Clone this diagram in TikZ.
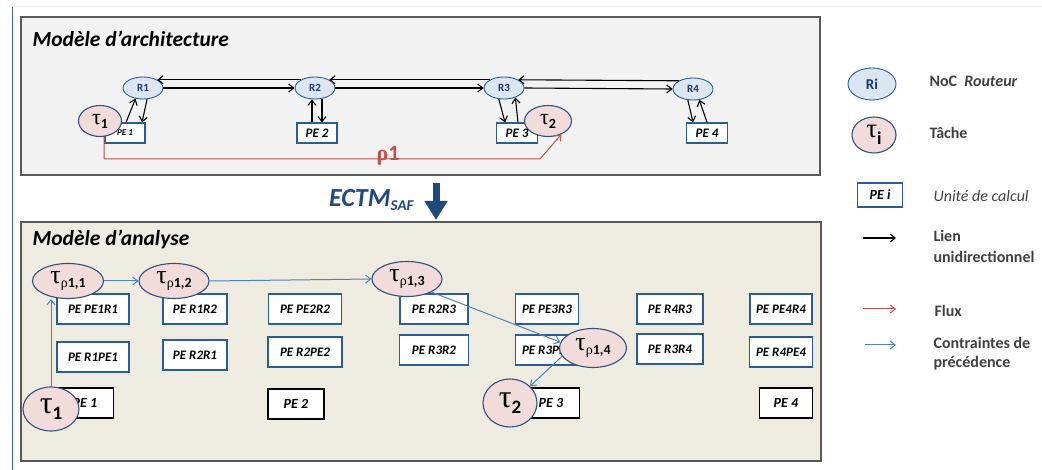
\documentclass[tikz,border=0pt]{standalone}
\usepackage{fontspec}
\setmainfont{Carlito}
\newfontfamily\grk{Liberation Serif}
\usetikzlibrary{arrows.meta,shapes.geometric,positioning}

\definecolor{archgray}{HTML}{F2F2F2}
\definecolor{anabeige}{HTML}{EEECE1}
\definecolor{routerfill}{HTML}{DCE6F2}
\definecolor{taskfill}{HTML}{F2DCDB}
\definecolor{navy}{HTML}{1F497D}
\definecolor{routertext}{HTML}{1F3864}
\definecolor{peblue}{HTML}{2C5D91}
\definecolor{taskline}{HTML}{34507A}
\definecolor{precblue}{HTML}{4F81BD}
\definecolor{fluxred}{HTML}{C0504D}
\definecolor{legendgray}{HTML}{404040}
\definecolor{framegray}{HTML}{595959}

\newcommand{\fsz}[1]{\fontsize{#1}{#1}\selectfont}
\newcommand{\tsub}[3]{\raisebox{-#1pt}{\fsz{#2}#3}}
\newcommand{\tautxt}[4]{{\grk\fsz{#1}τ}\tsub{#2}{#3}{#4}}

\begin{document}
\begin{tikzpicture}[x=1pt,y=-1pt,>={Straight Barb[length=5pt,width=8pt]},
  router/.style={ellipse,draw=peblue,fill=routerfill,inner sep=0pt,line width=0.9pt,
    minimum width=40pt,minimum height=22pt,text=routertext,font=\fsz{11}\bfseries},
  task/.style={ellipse,draw=taskline,fill=taskfill,inner sep=0pt,line width=1.1pt},
  pe/.style={draw=peblue,line width=1.2pt,fill=white,inner sep=0pt,
    minimum height=30pt,font=\fsz{13}\bfseries\itshape},
  pecore/.style={pe,draw=black,font=\fsz{14}\bfseries\itshape},
  link/.style={->,line width=1.1pt},
  flux/.style={->,fluxred,line width=1pt},
  prec/.style={->,precblue,line width=1pt},
  panel/.style={draw=framegray,line width=1.2pt},
  legtext/.style={anchor=base west,text=legendgray,font=\fsz{16}\bfseries}]
  \useasboundingbox (0,0) rectangle (1042,470);
  \draw[gray!15,line width=1pt] (12,7) -- (1042,7);
  \draw[precblue!80!black,line width=0.8pt] (12,7) -- (12,470);

  % architecture
  \draw[panel,fill=archgray] (21,17) rectangle (820,175);
  \node[anchor=base west,font=\fsz{21.5}\bfseries\itshape] (archtitle) at (29,47) {Modèle d’architecture};
  \node[router] (R1) at (143,88) {R1};
  \node[router] (R2) at (315,88) {R2};
  \node[router] (R3) at (504,88) {R3};
  \node[router] (R4) at (693,89) {R4};
  \node[pe,minimum width=40pt,minimum height=20pt,font=\fsz{9}\bfseries\itshape] (PE1) at (125,133) {PE 1};
  \node[pe,minimum width=40pt,minimum height=20pt] (PE2) at (317,133) {PE 2};
  \node[pe,minimum width=41pt,minimum height=20pt] (PE3) at (517,133) {PE 3};
  \node[pe,minimum width=41pt,minimum height=20pt] (PE4) at (707,133) {PE 4};
  \node[task,minimum width=43pt,minimum height=31pt] (tauA) at (100,121) {\tautxt{22}{4}{14}{\bfseries 1}};
  \node[task,minimum width=47pt,minimum height=31pt] (tauB) at (548,121) {\tautxt{22}{4}{14}{\bfseries 2}};
  \draw[link] (R1.east) -- (R2.west);
  \draw[link] (R2.150) -- (R1.30);
  \draw[link] (R2.east) -- (R3.west);
  \draw[link] (R3.150) -- (R2.30);
  \draw[link] (R3.east) -- (R4.west);
  \draw[link] (R4.150) -- (R3.30);
  \draw[link] ([xshift=1pt]PE1.north) -- (R1.235);
  \draw[link] (R1.290) -- ([xshift=17pt]PE1.north);
  \draw[link] ([xshift=-5pt]PE2.north) -- ([xshift=-5pt]PE2.north |- R2.south);
  \draw[link] ([xshift=5pt]PE2.north |- R2.south) -- ([xshift=5pt]PE2.north);
  \draw[link] (R3.245) -- ([xshift=-12pt]PE3.north);
  \draw[link] ([xshift=1pt]PE3.north) -- (R3.320);
  \draw[link] (R4.245) -- ([xshift=-14pt]PE4.north);
  \draw[link] (PE4.north) -- (R4.300);
  \coordinate (fluxbend) at (540,159);
  \draw[flux] (tauA.285) |- (fluxbend) -- (tauB.315);
  \node[anchor=base,text=fluxred,font=\fsz{22}\bfseries] (rho) at (388,161) {{\grk ρ}1};

  % transformation
  \node[anchor=base east,text=navy,font=\fsz{26}\bfseries\itshape] (ectm) at (417,207) {ECTM\tsub{4}{15}{SAF}};
  \coordinate (ectmtop) at (436,183);
  \coordinate (ectmbot) at (436,220);
  \draw[navy,line width=7pt,-{Triangle[length=19pt,width=22pt]}] (ectmtop) -- (ectmbot);

  % analyse
  \draw[panel,fill=anabeige] (21,222) rectangle (821,461);
  \node[anchor=base west,font=\fsz{21.5}\bfseries\itshape] (anatitle) at (29,246) {Modèle d’analyse};
  \node[pe,minimum width=72pt] (pPE1R1) at (93,309) {PE PE1R1};
  \node[pe,minimum width=64pt] (pR1R2) at (195,309) {PE R1R2};
  \node[pe,minimum width=73pt] (pPE2R2) at (305,309) {PE PE2R2};
  \node[pe,minimum width=68pt] (pR2R3) at (434,309) {PE R2R3};
  \node[pe,minimum width=63pt] (pPE3R3) at (547,309) {PE PE3R3};
  \node[pe,minimum width=66pt] (pR4R3) at (670,309) {PE R4R3};
  \node[pe,minimum width=62pt] (pPE4R4) at (781,309) {PE PE4R4};
  \node[pe,minimum width=72pt] (pR1PE1) at (93,357) {PE R1PE1};
  \node[pe,minimum width=64pt] (pR2R1) at (195,355) {PE R2R1};
  \node[pe,minimum width=74pt] (pR2PE2) at (305,352) {PE R2PE2};
  \node[pe,minimum width=69pt] (pR3R2) at (434,350) {PE R3R2};
  \node[pe,minimum width=63pt] (pR3PE3) at (547,350) {PE R3PE3};
  \node[pe,minimum width=66pt] (pR3R4) at (670,349) {PE R3R4};
  \node[pe,minimum width=63pt] (pR4PE4) at (781,352) {PE R4PE4};
  \node[pecore,minimum width=57pt] (pe1) at (85,403) {PE 1};
  \node[pecore,minimum width=56pt] (pe2) at (296,404) {PE 2};
  \node[pecore,minimum width=57pt] (pe3) at (551,403) {PE 3};
  \node[pecore,minimum width=53pt] (pe4) at (786,403) {PE 4};
  \node[task,minimum width=71pt,minimum height=35pt] (tr11) at (68,281) {\tautxt{26}{4}{14}{{\grk ρ}\textbf{1,1}}};
  \node[task,minimum width=70pt,minimum height=35pt] (tr12) at (174,281) {\tautxt{26}{4}{14}{{\grk ρ}\textbf{1,2}}};
  \node[task,minimum width=70pt,minimum height=35pt] (tr13) at (407,279) {\tautxt{26}{4}{14}{{\grk ρ}\textbf{1,3}}};
  \node[task,minimum width=67pt,minimum height=39pt] (tr14) at (593,348) {\tautxt{26}{4}{14}{{\grk ρ}\textbf{1,4}}};
  \node[task,minimum width=56pt,minimum height=44pt] (tauC) at (51,409) {\tautxt{32}{6}{19}{\bfseries 1}};
  \node[task,minimum width=54pt,minimum height=48pt] (tauD) at (510,403) {\tautxt{32}{6}{19}{\bfseries 2}};
  \draw[prec] (tauC.north) -- (tauC.north |- tr11.south);
  \draw[prec] (tr11.east) -- (tr12.west);
  \draw[prec] (tr12.east) -- (tr13.west);
  \draw[prec] (tr13.-28) -- (tr14.170);
  \draw[prec] (tr14.195) -- (tauD.40);

  % legende
  \node[router,minimum width=48pt,minimum height=32pt,font=\fsz{15}\bfseries] (legRouter) at (872,84) {Ri};
  \node[legtext] (legRouterTxt) at (926,87) {NoC\ \ \textit{Routeur}};
  \node[task,minimum width=44pt,minimum height=36pt] (legTask) at (874,135) {\tautxt{27}{7}{18}{\bfseries i}};
  \node[legtext] (legTaskTxt) at (926,139) {Tâche};
  \node[pe,minimum width=45pt,minimum height=24pt,font=\fsz{14}\bfseries\itshape] (legPE) at (880,195) {PE i};
  \node[legtext,font=\fsz{16}\itshape] (legPETxt) at (930,202) {Unité de calcul};
  \coordinate (legLinkA) at (863,238);
  \coordinate (legLinkB) at (896,238);
  \draw[link] (legLinkA) -- (legLinkB);
  \node[legtext] (legLinkTxt) at (930,242) {Lien};
  \node[legtext] (legLinkTxtb) at (930,263) {unidirectionnel};
  \coordinate (legFluxA) at (863,309);
  \coordinate (legFluxB) at (896,309);
  \draw[flux] (legFluxA) -- (legFluxB);
  \node[legtext] (legFluxTxt) at (931,317) {Flux};
  \coordinate (legPrecA) at (865,345);
  \coordinate (legPrecB) at (896,345);
  \draw[prec] (legPrecA) -- (legPrecB);
  \node[legtext] (legPrecTxt) at (930,349) {Contraintes de};
  \node[legtext] (legPrecTxtb) at (930,368) {précédence};
\end{tikzpicture}
\end{document}
